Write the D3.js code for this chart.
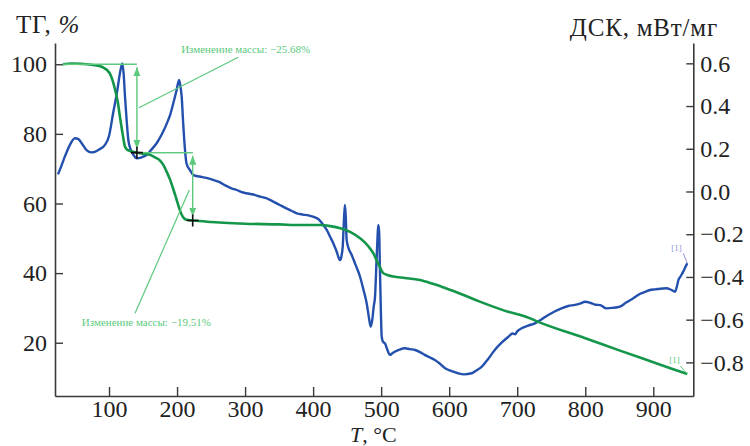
<!DOCTYPE html>
<html><head><meta charset="utf-8">
<script src="https://cdn.jsdelivr.net/npm/d3@7"></script>
<style>html,body{margin:0;padding:0;background:#fff;}svg{display:block;}</style>
</head><body><svg id="c" width="750" height="446"></svg>
<script>
const xTicks = [100,200,300,400,500,600,700,800,900];
const tgTicks = [20,40,60,80,100];
const dscTicks = [-0.8,-0.6,-0.4,-0.2,0,0.2,0.4,0.6];

// TG, % (T °C, value)
const tgT = [32,45,60,77,90,101,105,109,113,116,120,123.5,127,131,141,150,160,168,175,180,185,190,195,199.5,204,207,210,214,223,250,300,350,381,410,425,440,455,469,477,483.5,489,493,498,503,510,518,535,557,575,596,620,645,680,719,731,800,850,900,950];
const tgV = [100,100.2,100.1,99.8,99.2,97.4,95.5,92.6,89,85,80,76.3,75.4,75.1,74.6,74.3,74,73.2,72.3,71,69,66.7,63.8,61,58.2,56.7,55.8,55.3,55.1,54.7,54.2,54,53.8,53.8,53.5,52.9,51.8,50,48.6,47.1,45.5,43.8,41.8,40,39.4,39,38.6,38,37,35.6,33.8,31.8,29.3,27,26,21.3,17.8,14.4,11];

// DSC, mW/mg (T °C, value)
const dscT = [25,30,35,42,50,55,60,67,74,80,86,94,100,106,112,116,119.6,121.5,123.5,126,128.4,132,136,141,148,155,162,170,178,185,190,194.5,199,203,205,206.8,209,211.7,214,219,224,233,243,253,262,270,280,287.6,295,302,312,322,330,340,351,360,368,376,385,393,400,408,415,420,425,430,434.7,437.5,439.5,441.5,443.5,445.5,446.8,448,449.3,452,456.7,462,469,474,478.7,482,484.6,487,489,491,493.5,496,497.2,498,499.5,500.8,503,505.6,509,513,516,520,527,535,542,550,557,564,572,579,586,594,603,613,622,633,640,648,657,667,677,687,693,697,700,706.5,716,726,736,745.6,755,765,775,785,792,800,808,815,822,831,840,851,860,870.6,880,888,895,903,910,919.6,926,932,935,937,940,944,947,950];
const dscV = [0.08,0.12,0.163,0.215,0.249,0.245,0.225,0.194,0.183,0.187,0.198,0.218,0.26,0.366,0.47,0.553,0.6,0.55,0.444,0.33,0.241,0.195,0.171,0.155,0.16,0.171,0.195,0.226,0.27,0.319,0.36,0.413,0.47,0.522,0.49,0.444,0.32,0.194,0.13,0.1,0.077,0.07,0.064,0.054,0.045,0.03,0.015,0.007,-0.003,-0.008,-0.014,-0.024,-0.03,-0.045,-0.063,-0.078,-0.09,-0.102,-0.108,-0.112,-0.118,-0.13,-0.157,-0.18,-0.212,-0.245,-0.282,-0.31,-0.321,-0.305,-0.258,-0.12,-0.063,-0.12,-0.227,-0.265,-0.297,-0.34,-0.399,-0.46,-0.523,-0.59,-0.633,-0.6,-0.54,-0.492,-0.3,-0.157,-0.2,-0.336,-0.55,-0.68,-0.705,-0.711,-0.74,-0.765,-0.758,-0.75,-0.74,-0.734,-0.738,-0.742,-0.752,-0.765,-0.777,-0.789,-0.805,-0.828,-0.84,-0.851,-0.856,-0.851,-0.838,-0.82,-0.785,-0.742,-0.708,-0.68,-0.665,-0.668,-0.655,-0.64,-0.628,-0.617,-0.598,-0.578,-0.562,-0.547,-0.536,-0.531,-0.525,-0.516,-0.522,-0.53,-0.532,-0.547,-0.545,-0.539,-0.52,-0.5,-0.48,-0.47,-0.461,-0.458,-0.455,-0.453,-0.46,-0.469,-0.44,-0.414,-0.398,-0.375,-0.355,-0.336];

// mass-change annotations
const steps = [
  {label:"Изменение массы: −25.68%", T:141, hFrom:32, from:100, to:74.6, leadA:[144,87.5], leadB:[290,102], textAt:[206,103.2]},
  {label:"Изменение массы: −19.51%", T:223, hFrom:141, from:74.6, to:55.1, leadA:[218,63.9], leadB:[138.3,28.5], textAt:[60,24.8]}
];

const svg = d3.select("#c");
const x = d3.scaleLinear().domain([20.6, 958.8]).range([55, 693.3]);
const yL = d3.scaleLinear().domain([4.7, 106.1]).range([396, 43]);
const yR = d3.scaleLinear().domain([-0.9574, 0.6952]).range([396, 43]);

const serif = "'Liberation Serif','Times New Roman',serif";
const axisCol = "#3a3a3a";
const annCol = "#5cc97c";

const defs = svg.append("defs");
defs.append("marker").attr("id","ah").attr("viewBox","0 0 10 10").attr("refX",10).attr("refY",5)
  .attr("markerWidth",9).attr("markerHeight",9).attr("orient","auto-start-reverse").attr("markerUnits","userSpaceOnUse")
  .append("path").attr("d","M0,1 L10,5 L0,9 Z").attr("fill",annCol);

// axes
function styleAxis(g){
  g.selectAll("path.domain").attr("stroke",axisCol).attr("stroke-width",1.6);
  g.selectAll(".tick line").attr("stroke",axisCol).attr("stroke-width",1.4);
  g.selectAll(".tick text").attr("fill","#222").style("font-family",serif).style("font-size","24px");
}
const gx = svg.append("g").attr("transform","translate(0,396)")
  .call(d3.axisBottom(x).tickValues(xTicks).tickSize(-9).tickSizeOuter(0).tickPadding(4).tickFormat(d3.format("d")));
styleAxis(gx);
const gl = svg.append("g").attr("transform","translate(55,0)")
  .call(d3.axisLeft(yL).tickValues(tgTicks).tickSize(-8).tickSizeOuter(0).tickPadding(8).tickFormat(d3.format("d")));
styleAxis(gl);
const gr = svg.append("g").attr("transform","translate(693.3,0)")
  .call(d3.axisRight(yR).tickValues(dscTicks).tickSize(-7).tickSizeOuter(0).tickPadding(7).tickFormat(d3.format(".1f")));
styleAxis(gr);

// titles
svg.append("text").attr("x",16).attr("y",33).style("font-family",serif).style("font-size","25px").style("letter-spacing","0.8px").attr("fill","#222")
  .text("ТГ, ").append("tspan").style("font-style","italic").text("%");
svg.append("text").attr("x",718).attr("y",36).attr("text-anchor","end").style("font-family",serif).style("font-size","25px").style("letter-spacing","0.8px").attr("fill","#222")
  .text("ДСК, мВт/мг");
const xl = svg.append("text").attr("x",350).attr("y",441.5).style("font-family",serif).style("font-size","22px").attr("fill","#222");
xl.append("tspan").style("font-style","italic").text("T");
xl.append("tspan").text(", °C");

// annotation horizontal guide lines
const ann = svg.append("g");
steps.forEach(s=>{
  ann.append("line").attr("x1",x(s.hFrom)).attr("x2",x(s.T)).attr("y1",yL(s.from)).attr("y2",yL(s.from))
    .attr("stroke",annCol).attr("stroke-width",1.4);
});
ann.append("line").attr("x1",x(steps[0].T)).attr("x2",x(steps[1].T)).attr("y1",yL(steps[0].to)).attr("y2",yL(steps[0].to))
  .attr("stroke",annCol).attr("stroke-width",1.4);

// curves
const line = (ys)=> d3.line().x(d=>x(d[0])).y(d=>ys(d[1])).curve(d3.curveMonotoneX);
svg.append("path").datum(dscT.map((t,i)=>[t,dscV[i]])).attr("d",line(yR)).attr("fill","none")
  .attr("stroke","#2450ad").attr("stroke-width",2.4).attr("stroke-linejoin","round");
svg.append("path").datum(tgT.map((t,i)=>[t,tgV[i]])).attr("d",line(yL)).attr("fill","none")
  .attr("stroke","#14964a").attr("stroke-width",2.6).attr("stroke-linejoin","round");
ann.raise();

// arrows, leaders, labels, crosses
steps.forEach(s=>{
  const xa = x(s.T);
  svg.append("line").attr("x1",xa).attr("x2",xa).attr("y1",yL(s.from)+3).attr("y2",yL(s.to)-4)
    .attr("stroke",annCol).attr("stroke-width",1.4).attr("marker-start","url(#ah)").attr("marker-end","url(#ah)");
  svg.append("line").attr("x1",x(s.leadA[0])).attr("y1",yL(s.leadA[1])).attr("x2",x(s.leadB[0])).attr("y2",yL(s.leadB[1]))
    .attr("stroke",annCol).attr("stroke-width",1.2);
  svg.append("text").attr("x",x(s.textAt[0])).attr("y",yL(s.textAt[1])).style("font-family",serif).style("font-size","11px")
    .attr("fill",annCol).text(s.label);
  const cx = x(s.T), cy = yL(s.to);
  svg.append("path").attr("d",`M${cx-6},${cy}H${cx+6}M${cx},${cy-6}V${cy+6}`).attr("stroke","#111").attr("stroke-width",1.6);
});

// [1] end markers
const dEnd = [dscT[dscT.length-1], dscV[dscV.length-1]];
svg.append("line").attr("x1",x(dEnd[0])-4).attr("y1",yR(dEnd[1])-10).attr("x2",x(dEnd[0])).attr("y2",yR(dEnd[1])).attr("stroke","#8f93d9").attr("stroke-width",1);
svg.append("text").attr("x",x(dEnd[0])-16).attr("y",yR(dEnd[1])-12).style("font-family",serif).style("font-size","9px").attr("fill","#8f93d9").text("[1]");
const tEnd = [tgT[tgT.length-1], tgV[tgV.length-1]];
svg.append("line").attr("x1",x(tEnd[0])-7).attr("y1",yL(tEnd[1])-8).attr("x2",x(tEnd[0])).attr("y2",yL(tEnd[1])).attr("stroke",annCol).attr("stroke-width",1);
svg.append("text").attr("x",x(tEnd[0])-18).attr("y",yL(tEnd[1])-11).style("font-family",serif).style("font-size","9px").attr("fill",annCol).text("[1]");
</script></body></html>
